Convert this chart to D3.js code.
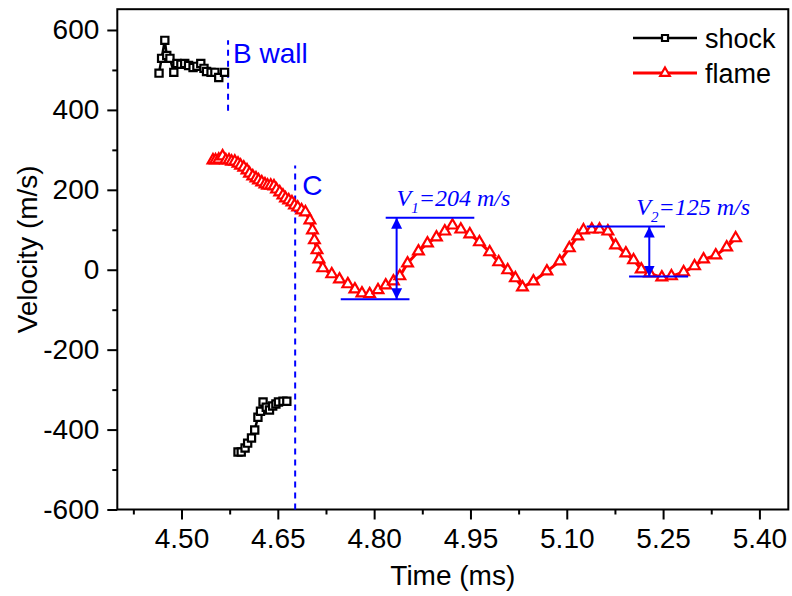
<!DOCTYPE html>
<html>
<head>
<meta charset="utf-8">
<script src="https://cdn.jsdelivr.net/npm/d3@7"></script>
<style>
  body { margin: 0; background: #fff; }
  svg { display: block; }
  text { font-family: "Liberation Sans", Arial, sans-serif; }
</style>
</head>
<body>
<svg id="chart" width="792" height="596"></svg>
<script>
// Shock front velocity, first segment (before the B wall)
const shockTimeA = [4.465, 4.469, 4.474, 4.477, 4.482, 4.488, 4.493, 4.499, 4.505, 4.511,
                    4.518, 4.524, 4.530, 4.535, 4.539, 4.546, 4.552, 4.558, 4.567];
const shockVelA  = [492, 529, 574, 536, 529, 494, 516, 514, 516, 511,
                    506, 509, 516, 504, 496, 494, 494, 481, 494];

// Shock front velocity, reflected segment
const shockTimeB = [4.588, 4.593, 4.599, 4.603, 4.609, 4.614, 4.619, 4.623, 4.627, 4.632,
                    4.637, 4.642, 4.647, 4.651, 4.658, 4.664];
const shockVelB  = [-456, -456, -446, -434, -421, -401, -369, -354, -331, -344,
                    -351, -341, -336, -331, -329, -329];

// Flame front velocity
const flameTime = [4.549, 4.553, 4.558, 4.564, 4.569, 4.574, 4.578, 4.583, 4.588, 4.592,
                   4.597, 4.602, 4.606, 4.611, 4.616, 4.620, 4.625, 4.630, 4.634, 4.639,
                   4.644, 4.648, 4.653, 4.658, 4.662, 4.667, 4.672, 4.676, 4.681, 4.687,
                   4.693, 4.700, 4.704, 4.707, 4.711, 4.714, 4.720, 4.734, 4.746, 4.759,
                   4.770, 4.781, 4.793, 4.806, 4.818, 4.830, 4.840, 4.852, 4.869, 4.883,
                   4.897, 4.910, 4.922, 4.935, 4.949, 4.964, 4.980, 4.994, 5.008, 5.020,
                   5.031, 5.048, 5.069, 5.089, 5.104, 5.117, 5.126, 5.139, 5.151, 5.164,
                   5.176, 5.192, 5.204, 5.216, 5.229, 5.248, 5.263, 5.282, 5.299, 5.313,
                   5.332, 5.349, 5.363];
const flameVel  = [274, 274, 276, 284, 274, 274, 271, 271, 266, 261,
                   256, 249, 241, 234, 229, 224, 219, 214, 211, 211,
                   209, 201, 194, 186, 179, 174, 169, 161, 156, 149,
                   144, 124, 99, 74, 49, 26, 4, -11, -24, -36,
                   -49, -59, -61, -51, -39, -29, -16, 16, 46, 66,
                   81, 96, 111, 101, 89, 69, 44, 19, -1, -21,
                   -44, -29, -4, 21, 54, 84, 99, 101, 101, 96,
                   61, 41, 24, 1, -9, -19, -16, -6, 9, 26,
                   36, 56, 79];

const seriesNames = ["shock", "flame"];
const seriesColors = ["#000000", "#ff0000"];

// Axis ticks
const xTicks = [4.50, 4.65, 4.80, 4.95, 5.10, 5.25, 5.40];
const xMinorTicks = [4.425, 4.575, 4.725, 4.875, 5.025, 5.175, 5.325];
const yTicks = [-600, -400, -200, 0, 200, 400, 600];
const yMinorTicks = [-500, -300, -100, 100, 300, 500];

// Reference positions (dashed verticals)
const refLabels = ["B wall", "C"];
const refTime = [4.5725, 4.677];
const refLow = [398, -600];
const refHigh = [574, 261];

// Oscillation amplitudes
const ampNames = ["1", "2"];
const ampValues = [204, 125];
const ampTime = [4.835, 5.2285];
const ampLow = [-74, -17];
const ampTopStart = [4.818, 5.131];
const ampTopEnd = [4.956, 5.253];
const ampBotStart = [4.748, 5.197];
const ampBotEnd = [4.855, 5.289];

const svg = d3.select("#chart");
const plotL = 117.3, plotR = 788.3, plotT = 9.2, plotB = 509.5;

const x = d3.scaleLinear().domain([4.40, 5.445]).range([plotL, plotR]);
const y = d3.scaleLinear().domain([-600, 652]).range([plotB, plotT]);

const blue = "#0000ff";

// Axes
svg.append("g").attr("transform", `translate(0,${plotB})`)
  .call(d3.axisBottom(x).tickValues(xTicks).tickFormat(d3.format(".2f"))
        .tickSize(10).tickSizeOuter(0).tickPadding(9));
svg.append("g").attr("transform", `translate(0,${plotB})`)
  .call(d3.axisBottom(x).tickValues(xMinorTicks).tickFormat("").tickSize(5).tickSizeOuter(0));
svg.append("g").attr("transform", `translate(${plotL},0)`)
  .call(d3.axisLeft(y).tickValues(yTicks).tickFormat(d => String(d))
        .tickSize(10).tickSizeOuter(0).tickPadding(8));
svg.append("g").attr("transform", `translate(${plotL},0)`)
  .call(d3.axisLeft(y).tickValues(yMinorTicks).tickFormat("").tickSize(5).tickSizeOuter(0));

svg.selectAll(".domain").remove();
svg.selectAll(".tick line").attr("stroke", "#000").attr("stroke-width", 2);
svg.selectAll(".tick text").attr("fill", "#000")
  .style("font-family", '"Liberation Sans", Arial, sans-serif').style("font-size", "28px");

// Plot frame
svg.append("rect").attr("x", plotL).attr("y", plotT)
  .attr("width", plotR - plotL).attr("height", plotB - plotT)
  .attr("fill", "none").attr("stroke", "#000").attr("stroke-width", 2);

// Axis titles
svg.append("text").attr("x", (plotL + plotR) / 2).attr("y", 585)
  .attr("text-anchor", "middle").style("font-size", "28px").text("Time (ms)");
svg.append("text").attr("transform", `translate(37,${(plotT + plotB) / 2 - 10}) rotate(-90)`)
  .attr("text-anchor", "middle").style("font-size", "28px").text("Velocity (m/s)");

// Dashed reference lines with labels
refLabels.forEach((lab, i) => {
  svg.append("line")
    .attr("x1", x(refTime[i])).attr("x2", x(refTime[i]))
    .attr("y1", y(refLow[i])).attr("y2", y(refHigh[i]))
    .attr("stroke", blue).attr("stroke-width", 2).attr("stroke-dasharray", "6,5");
  svg.append("text")
    .attr("x", x(refTime[i]) + (i === 0 ? 5 : 7))
    .attr("y", i === 0 ? y(refHigh[i]) + 23 : y(refHigh[i]) + 30)
    .attr("fill", blue).style("font-size", "28px").text(lab);
});

// Series drawing
const line = d3.line().x(d => x(d[0])).y(d => y(d[1]));
const sq = d3.symbol(d3.symbolSquare, 52);
const tri = d3.symbol(d3.symbolTriangle, 50);

function drawSeries(times, vals, color, symbolGen, width) {
  const pts = times.map((t, i) => [t, vals[i]]);
  svg.append("path").datum(pts).attr("d", line)
    .attr("fill", "none").attr("stroke", color).attr("stroke-width", width)
    .attr("stroke-linejoin", "round");
  svg.append("g").selectAll("path").data(pts).join("path")
    .attr("d", symbolGen)
    .attr("transform", d => `translate(${x(d[0])},${y(d[1])})`)
    .attr("fill", "#fff").attr("stroke", color).attr("stroke-width", 2.2);
}

drawSeries(shockTimeA, shockVelA, seriesColors[0], sq, 2.5);
drawSeries(shockTimeB, shockVelB, seriesColors[0], sq, 2.5);
drawSeries(flameTime, flameVel, seriesColors[1], tri, 3);

// Amplitude markers
const defs = svg.append("defs");
defs.append("marker").attr("id", "ah").attr("viewBox", "0 0 10 10")
  .attr("refX", 10).attr("refY", 5).attr("markerWidth", 11).attr("markerHeight", 12)
  .attr("markerUnits", "userSpaceOnUse").attr("orient", "auto-start-reverse")
  .append("path").attr("d", "M0,0 L10,5 L0,10 Z").attr("fill", blue);

ampNames.forEach((nm, i) => {
  const lo = ampLow[i], hi = ampLow[i] + ampValues[i];
  svg.append("line").attr("x1", x(ampTopStart[i])).attr("x2", x(ampTopEnd[i]))
    .attr("y1", y(hi)).attr("y2", y(hi)).attr("stroke", blue).attr("stroke-width", 2);
  svg.append("line").attr("x1", x(ampBotStart[i])).attr("x2", x(ampBotEnd[i]))
    .attr("y1", y(lo)).attr("y2", y(lo)).attr("stroke", blue).attr("stroke-width", 2);
  svg.append("line").attr("x1", x(ampTime[i])).attr("x2", x(ampTime[i]))
    .attr("y1", y(lo)).attr("y2", y(hi)).attr("stroke", blue).attr("stroke-width", 2)
    .attr("marker-start", "url(#ah)").attr("marker-end", "url(#ah)");
  const t = svg.append("text")
    .attr("x", x(ampTime[i]) - (i === 0 ? 0 : 13)).attr("y", y(hi) - 12)
    .attr("fill", blue)
    .style("font-family", '"Liberation Serif", "Times New Roman", serif')
    .style("font-style", "italic").style("font-size", "24px");
  t.append("tspan").text("V");
  t.append("tspan").attr("dx", 0).attr("dy", 7).style("font-size", "15px").text(nm);
  t.append("tspan").attr("dy", -7).text(`=${ampValues[i]} m/s`);
});

// Legend
const legX0 = 633, legX1 = 697, legY = [38, 73];
seriesNames.forEach((nm, i) => {
  svg.append("line").attr("x1", legX0).attr("x2", legX1)
    .attr("y1", legY[i]).attr("y2", legY[i])
    .attr("stroke", seriesColors[i]).attr("stroke-width", i === 0 ? 2.5 : 3);
  svg.append("path").attr("d", (i === 0 ? d3.symbol(d3.symbolSquare, 36) : d3.symbol(d3.symbolTriangle, 40))())
    .attr("transform", `translate(${(legX0 + legX1) / 2},${legY[i]})`)
    .attr("fill", "#fff").attr("stroke", seriesColors[i]).attr("stroke-width", 2.2);
  svg.append("text").attr("x", 705).attr("y", legY[i] + 10)
    .style("font-size", "27px").attr("fill", "#000").text(nm);
});
</script>
</body>
</html>
